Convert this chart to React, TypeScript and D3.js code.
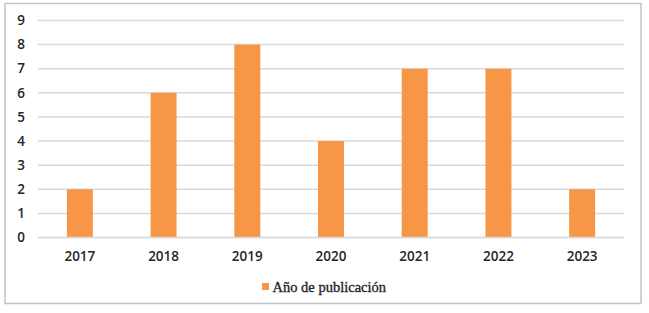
import React from "react";
import * as d3 from "d3";

const categories = ["2017", "2018", "2019", "2020", "2021", "2022", "2023"];
const values = [2, 6, 8, 4, 7, 7, 2];
const yTicks = [0, 1, 2, 3, 4, 5, 6, 7, 8, 9];
const seriesName = "Año de publicación";

export default function App() {
  const W = 649, H = 313;
  const left = 38, right = 624, top = 20.5, bottom = 237.5;
  const x = d3.scaleBand<string>().domain(categories).range([left, right]).paddingInner(0.69).paddingOuter(0.345);
  const y = d3.scaleLinear().domain([0, 9]).range([bottom, top]);
  const orange = "#F79646";
  const txt = "#262626";
  return (
    <svg width={W} height={H} style={{ position: "absolute", left: 0, top: 0, background: "#fff" }}>
      <rect x={5} y={3.5} width={636} height={300} fill="#fff" stroke="#c4c4c4" strokeWidth={1.5} />
      {yTicks.map((t) => (
        <g key={t}>
          <line x1={left} x2={right} y1={y(t)} y2={y(t)} stroke="#d9d9d9" strokeWidth={1.5} />
          <text x={25} y={y(t)} dy="0.35em" textAnchor="end" fontFamily="Open Sans, sans-serif" fontWeight={600} fontSize={13.5} fill={txt}>{t}</text>
        </g>
      ))}
      {categories.map((c, i) => (
        <g key={c}>
          <rect x={x(c)} y={y(values[i])} width={x.bandwidth()} height={y(0) - y(values[i])} fill={orange} />
          <text x={(x(c) as number) + x.bandwidth() / 2} y={256} dy="0.35em" textAnchor="middle" fontFamily="Open Sans, sans-serif" fontWeight={600} fontSize={13.5} fill={txt}>{c}</text>
        </g>
      ))}
      <line x1={left} x2={right} y1={y(0)} y2={y(0)} stroke="#d9d9d9" strokeWidth={1.5} />
      <rect x={262} y={283} width={7} height={7} fill={orange} />
      <text x={272.5} y={286.5} dy="0.35em" fontFamily="Liberation Serif, serif" fontSize={14.5} fill={txt} stroke={txt} strokeWidth={0.35}>{seriesName}</text>
    </svg>
  );
}
